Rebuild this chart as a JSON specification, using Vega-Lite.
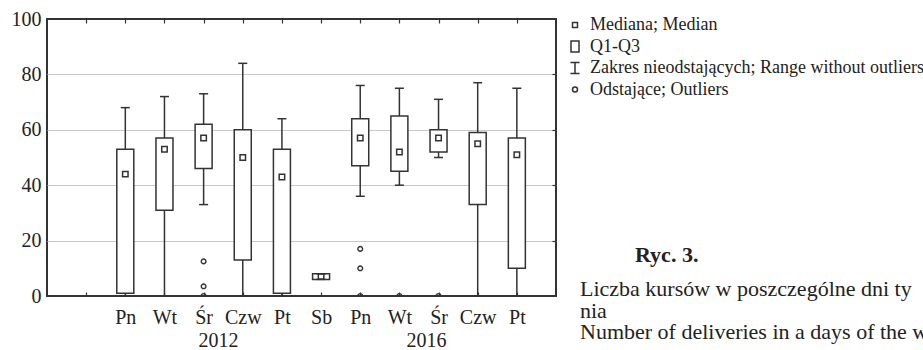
{
  "$schema": "https://vega.github.io/schema/vega-lite/v6.json",
  "width": 509,
  "height": 277,
  "autosize": {"type": "none"},
  "padding": {"left": 47, "top": 19, "right": 367, "bottom": 54},
  "background": "white",
  "config": {
    "font": "Liberation Serif",
    "view": {"stroke": "#333", "strokeWidth": 2},
    "axis": {"labelFont": "Liberation Serif", "labelColor": "#222", "labelFontSize": 20, "domain": false, "grid": false, "title": null}
  },
  "title": {
    "text": "\u200b\u00a0\u00a0\u00a0\u00a0\u00a0\u00a0\u00a0\u00a0\u00a0\u00a0Ryc. 3.",
    "subtitle": ["Liczba kursów w poszczególne dni ty", "nia", "Number of deliveries in a days of the w"],
    "orient": "top",
    "anchor": "start",
    "frame": "group",
    "dx": 533,
    "dy": 339,
    "font": "Liberation Serif",
    "fontSize": 22,
    "fontWeight": "bold",
    "color": "#222",
    "subtitleFont": "Liberation Serif",
    "subtitleFontSize": 22,
    "subtitleColor": "#222",
    "subtitleLineHeight": 21.5,
    "subtitlePadding": 12
  },
  "datasets": {
    "stats": [
      {"id": "2012 Pn", "lo": 0, "q1": 1, "med": 44, "q3": 53, "hi": 68},
      {"id": "2012 Wt", "lo": 0, "q1": 31, "med": 53, "q3": 57, "hi": 72},
      {"id": "2012 Śr", "lo": 33, "q1": 46, "med": 57, "q3": 62, "hi": 73},
      {"id": "2012 Czw", "lo": 0, "q1": 13, "med": 50, "q3": 60, "hi": 84},
      {"id": "2012 Pt", "lo": 0, "q1": 1, "med": 43, "q3": 53, "hi": 64},
      {"id": "2016 Sb", "lo": 6, "q1": 6, "med": 7, "q3": 8, "hi": 8},
      {"id": "2016 Pn", "lo": 36, "q1": 47, "med": 57, "q3": 64, "hi": 76},
      {"id": "2016 Wt", "lo": 40, "q1": 45, "med": 52, "q3": 65, "hi": 75},
      {"id": "2016 Śr", "lo": 50, "q1": 52, "med": 57, "q3": 60, "hi": 71},
      {"id": "2016 Czw", "lo": 0, "q1": 33, "med": 55, "q3": 59, "hi": 77},
      {"id": "2016 Pt", "lo": 0, "q1": 10, "med": 51, "q3": 57, "hi": 75}
    ],
    "outliers": [
      {"id": "2012 Śr", "v": 12.5},
      {"id": "2012 Śr", "v": 3.5},
      {"id": "2012 Śr", "v": 0},
      {"id": "2016 Pn", "v": 17},
      {"id": "2016 Pn", "v": 10},
      {"id": "2016 Pn", "v": 0},
      {"id": "2016 Wt", "v": 0},
      {"id": "2016 Śr", "v": 0}
    ],
    "legend": [
      {"lg": "Mediana; Median"},
      {"lg": "Q1-Q3"},
      {"lg": "Zakres nieodstających; Range without outliers"},
      {"lg": "Odstające; Outliers"}
    ]
  },
  "resolve": {"axis": {"x": "independent", "y": "independent"}},
  "layer": [
    {
      "data": {"name": "stats"},
      "mark": {"type": "rule", "color": "#333", "strokeWidth": 1.5},
      "encoding": {
        "x": {
          "field": "id", "type": "nominal",
          "scale": {"type": "point", "padding": 1, "domain": ["0", "2012 Pn", "2012 Wt", "2012 Śr", "2012 Czw", "2012 Pt", "2016 Sb", "2016 Pn", "2016 Wt", "2016 Śr", "2016 Czw", "2016 Pt"]},
          "axis": {"orient": "bottom", "labelExpr": "indexof(datum.value, ' ') > 0 ? split(datum.value, ' ')[1] : ''", "labelAngle": 0, "tickSize": -4, "tickColor": "#333", "tickWidth": 1.2, "labelPadding": 15, "labelBaseline": "top"}
        },
        "y": {
          "field": "lo", "type": "quantitative",
          "scale": {"domain": [0, 100], "nice": false},
          "axis": {"orient": "left", "values": [0, 20, 40, 60, 80, 100], "ticks": false, "labelPadding": 6}
        },
        "y2": {"field": "hi"}
      }
    },
    {
      "data": {"name": "stats"},
      "mark": {"type": "bar", "fill": "white", "stroke": "#333", "strokeWidth": 1.5, "width": 17},
      "encoding": {
        "x": {"field": "id", "type": "nominal", "axis": {"orient": "top", "labels": false, "tickSize": -4, "tickColor": "#333", "tickWidth": 1.2}},
        "y": {"field": "q1", "type": "quantitative", "axis": {"orient": "right", "labels": false, "values": [20, 40, 60, 80], "grid": true, "gridColor": "#c8c8c8", "gridWidth": 1, "tickSize": -4, "tickColor": "#333", "tickWidth": 1.2}},
        "y2": {"field": "q3"}
      }
    },
    {
      "data": {"name": "stats"},
      "mark": {"type": "tick", "color": "#333", "thickness": 1.5, "size": 9, "opacity": 1},
      "encoding": {
        "x": {"field": "id", "type": "nominal", "axis": null},
        "y": {"field": "hi", "type": "quantitative", "axis": null}
      }
    },
    {
      "data": {"name": "stats"},
      "mark": {"type": "tick", "color": "#333", "thickness": 1.5, "size": 9, "opacity": 1},
      "encoding": {
        "x": {"field": "id", "type": "nominal", "axis": null},
        "y": {"field": "lo", "type": "quantitative", "axis": null}
      }
    },
    {
      "data": {"name": "stats"},
      "mark": {"type": "point", "shape": "square", "filled": false, "size": 30, "color": "#333", "strokeWidth": 1.5, "opacity": 1},
      "encoding": {
        "x": {"field": "id", "type": "nominal", "axis": null},
        "y": {"field": "med", "type": "quantitative", "axis": null}
      }
    },
    {
      "data": {"name": "outliers"},
      "mark": {"type": "point", "shape": "circle", "filled": false, "size": 22, "color": "#333", "strokeWidth": 1.4, "opacity": 1, "clip": true},
      "encoding": {
        "x": {"field": "id", "type": "nominal", "axis": null},
        "y": {"field": "v", "type": "quantitative", "axis": null}
      }
    },
    {
      "data": {"values": [{"id": "2012 Śr", "t": "2012"}]},
      "mark": {"type": "text", "font": "Liberation Serif", "fontSize": 20, "color": "#222", "baseline": "middle", "y": {"expr": "height"}, "dy": 45, "dx": 15},
      "encoding": {
        "x": {"field": "id", "type": "nominal", "axis": null},
        "text": {"field": "t"}
      }
    },
    {
      "data": {"values": [{"id": "2016 Śr", "t": "2016"}]},
      "mark": {"type": "text", "font": "Liberation Serif", "fontSize": 20, "color": "#222", "baseline": "middle", "y": {"expr": "height"}, "dy": 45, "dx": -12},
      "encoding": {
        "x": {"field": "id", "type": "nominal", "axis": null},
        "text": {"field": "t"}
      }
    },
    {
      "data": {"name": "legend"},
      "transform": [{"filter": "false"}],
      "mark": {"type": "point", "filled": false, "color": "#333", "strokeWidth": 1.5, "opacity": 1},
      "encoding": {
        "shape": {
          "field": "lg", "type": "nominal",
          "scale": {
            "domain": ["Mediana; Median", "Q1-Q3", "Zakres nieodstających; Range without outliers", "Odstające; Outliers"],
            "range": ["M-0.5,-0.5H0.5V0.5H-0.5Z", "M-0.8,-1.1H0.8V1.1H-0.8Z", "M-0.9,-1.1H0.9M0,-1.1V1.1M-0.9,1.1H0.9", "M0.5,0A0.5,0.5,0,1,1,-0.5,0A0.5,0.5,0,1,1,0.5,0Z"]
          },
          "legend": {
            "orient": "none", "legendX": 519, "legendY": -3, "title": null,
            "padding": 0, "symbolSize": 100, "symbolStrokeWidth": 1.5, "symbolStrokeColor": "#333", "symbolOpacity": 1,
            "labelFont": "Liberation Serif", "labelFontSize": 18, "labelColor": "#222", "labelOffset": 6, "rowPadding": 3.5, "labelLimit": 500
          }
        }
      }
    }
  ]
}
